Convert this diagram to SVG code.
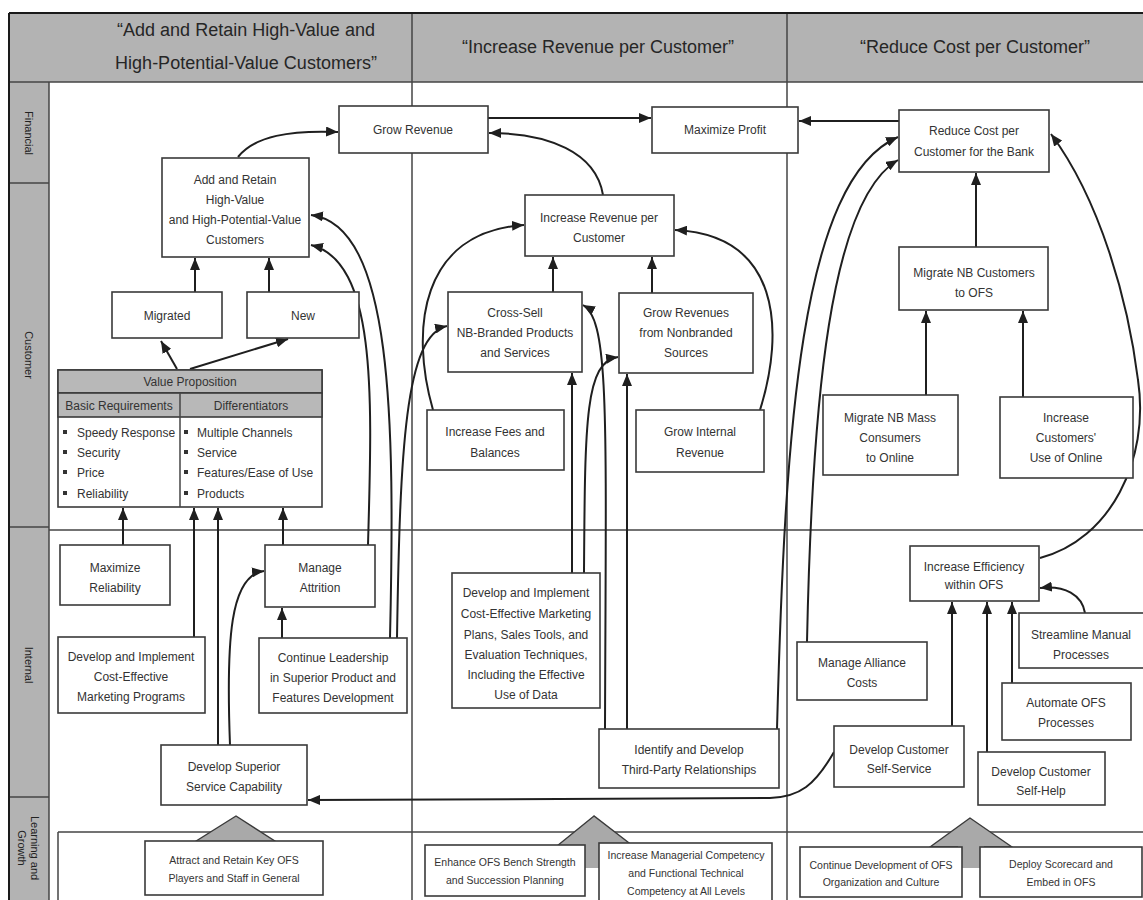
<svg xmlns="http://www.w3.org/2000/svg" width="1143" height="900" viewBox="0 0 1143 900">
  <defs>
    <style>
      .band { fill: #b3b3b3; }
      .frame { fill: none; stroke: #1a1a1a; stroke-width: 2; }
      .grid { fill: none; stroke: #444; stroke-width: 1.5; }
      .box { fill: #fff; stroke: #3a3a3a; stroke-width: 1.6; }
      .vphead { fill: #b8b8b8; stroke: #3a3a3a; stroke-width: 1.6; }
      .conn { fill: none; stroke: #1f1f1f; stroke-width: 2; marker-end: url(#ah); }
      .plain { fill: none; stroke: #1f1f1f; stroke-width: 2; }
      .pyr { fill: #a9a9a9; stroke: #3a3a3a; stroke-width: 1.4; }
      .title { font-family: "Liberation Sans", Arial, sans-serif; font-size: 18px; fill: #262626; text-anchor: middle; }
      .row { font-family: "Liberation Sans", Arial, sans-serif; font-size: 11px; fill: #222; text-anchor: middle; }
      .t { font-family: "Liberation Sans", Arial, sans-serif; font-size: 12px; fill: #333; text-anchor: middle; }
      .s { font-family: "Liberation Sans", Arial, sans-serif; font-size: 10.5px; fill: #333; text-anchor: middle; }
      .b { font-family: "Liberation Sans", Arial, sans-serif; font-size: 12px; fill: #333; }
    </style>
    <marker id="ah" viewBox="0 0 12 10" refX="12" refY="5" markerWidth="12" markerHeight="10" markerUnits="userSpaceOnUse" orient="auto">
      <path d="M0,0 L12,5 L0,10 z" fill="#1f1f1f"/>
    </marker>
  </defs>

  <!-- page background -->
  <rect x="0" y="0" width="1143" height="900" fill="#fff"/>

  <!-- header band and perspective column -->
  <g id="layout">
    <rect class="band" x="9" y="13" width="1134" height="69"/>
    <rect class="band" x="9" y="82" width="40" height="818"/>
    <line class="grid" x1="9" y1="82" x2="1143" y2="82"/>
    <line class="grid" x1="49" y1="82" x2="49" y2="900"/>
    <line class="grid" x1="9" y1="183" x2="49" y2="183"/>
    <line class="grid" x1="9" y1="527" x2="49" y2="527"/>
    <line class="grid" x1="9" y1="797" x2="49" y2="797"/>
    <line class="grid" x1="49" y1="530" x2="1143" y2="530"/>
    <line class="grid" x1="412" y1="13" x2="412" y2="900"/>
    <line class="grid" x1="787" y1="13" x2="787" y2="900"/>
    <line class="grid" x1="58" y1="832" x2="1143" y2="832"/>
    <line class="grid" x1="58" y1="832" x2="58" y2="900"/>
    <line class="frame" x1="9" y1="13" x2="1143" y2="13"/>
    <line class="frame" x1="9" y1="13" x2="9" y2="900"/>

    <text class="title" x="246" y="36">“Add and Retain High-Value and</text>
    <text class="title" x="246" y="69">High-Potential-Value Customers”</text>
    <text class="title" x="598" y="53">“Increase Revenue per Customer”</text>
    <text class="title" x="975" y="53">“Reduce Cost per Customer”</text>

    <text class="row" transform="translate(29,133) rotate(90)" y="4">Financial</text>
    <text class="row" transform="translate(29,355) rotate(90)" y="4">Customer</text>
    <text class="row" transform="translate(29,665) rotate(90)" y="4">Internal</text>
    <text class="row" transform="translate(29,848) rotate(90)" y="-2">Learning and</text>
    <text class="row" transform="translate(29,848) rotate(90)" y="11">Growth</text>
  </g>

  <!-- connectors -->
  <g id="connectors">
    <path class="conn" d="M238,157 C255,136 290,130 338,132"/>
    <path class="conn" d="M488,118 L651,118"/>
    <path class="conn" d="M603,195 C596,152 548,133 489,133"/>
    <path class="conn" d="M899,121 L799,121"/>
    <path class="conn" d="M195,292 L195,258"/>
    <path class="conn" d="M269,292 L269,258"/>
    <path class="conn" d="M177,369 L161,341"/>
    <path class="conn" d="M190,369 L288,339"/>
    <path class="conn" d="M368,545 C372,400 378,262 311,245"/>
    <path class="conn" d="M390,638 C395,420 393,225 311,215"/>
    <path class="conn" d="M397,638 C400,450 405,335 447,326"/>
    <path class="conn" d="M123,545 L123,508"/>
    <path class="conn" d="M194,637 L194,508"/>
    <path class="conn" d="M218,745 L218,508"/>
    <path class="conn" d="M283,545 L283,508"/>
    <path class="conn" d="M282,638 L282,608"/>
    <path class="conn" d="M230,745 C226,640 230,575 264,571"/>
    <path class="conn" d="M834,752 C815,785 800,797 770,798 L308,800"/>
    <path class="conn" d="M433,410 C410,330 420,232 524,225"/>
    <path class="conn" d="M760,410 C785,330 780,235 675,230"/>
    <path class="conn" d="M553,292 L553,257"/>
    <path class="conn" d="M652,293 L652,257"/>
    <path class="conn" d="M572,573 L572,373"/>
    <path class="conn" d="M584,573 C585,420 585,362 618,357"/>
    <path class="conn" d="M605,729 C606,420 610,320 583,305"/>
    <path class="conn" d="M627,729 L627,374"/>
    <path class="conn" d="M777,729 C785,430 800,180 898,137"/>
    <path class="conn" d="M807,642 C812,400 830,200 898,160"/>
    <path class="conn" d="M976,247 L976,173"/>
    <path class="conn" d="M926,395 L926,311"/>
    <path class="conn" d="M1023,397 L1023,311"/>
    <path class="conn" d="M1040,558 C1110,540 1150,460 1138,380 C1128,300 1100,200 1051,134"/>
    <path class="conn" d="M1085,613 C1082,595 1065,585 1040,588"/>
    <path class="conn" d="M1012,683 L1012,602"/>
    <path class="conn" d="M987,752 L987,602"/>
    <path class="conn" d="M952,726 L952,602"/>
  </g>

  <!-- financial perspective -->
  <g id="grow-revenue"><rect class="box" x="339" y="106" width="149" height="47"/><text class="t" x="413" y="134">Grow Revenue</text></g>
  <g id="maximize-profit"><rect class="box" x="652" y="107" width="146" height="46"/><text class="t" x="725" y="134">Maximize Profit</text></g>
  <g id="reduce-cost"><rect class="box" x="899" y="110" width="150" height="62"/><text class="t" x="974" y="135">Reduce Cost per</text><text class="t" x="974" y="156">Customer for the Bank</text></g>

  <!-- customer perspective -->
  <g id="add-retain"><rect class="box" x="162" y="158" width="147" height="99"/>
    <text class="t" x="235" y="184">Add and Retain</text><text class="t" x="235" y="204">High-Value</text>
    <text class="t" x="235" y="224">and High-Potential-Value</text><text class="t" x="235" y="244">Customers</text></g>
  <g id="increase-revenue"><rect class="box" x="525" y="195" width="149" height="61"/><text class="t" x="599" y="222">Increase Revenue per</text><text class="t" x="599" y="242">Customer</text></g>
  <g id="migrated"><rect class="box" x="112" y="292" width="110" height="46"/><text class="t" x="167" y="320">Migrated</text></g>
  <g id="new"><rect class="box" x="247" y="292" width="112" height="46"/><text class="t" x="303" y="320">New</text></g>
  <g id="cross-sell"><rect class="box" x="448" y="292" width="134" height="80"/>
    <text class="t" x="515" y="317">Cross-Sell</text><text class="t" x="515" y="337">NB-Branded Products</text><text class="t" x="515" y="357">and Services</text></g>
  <g id="grow-nonbranded"><rect class="box" x="619" y="293" width="134" height="80"/>
    <text class="t" x="686" y="317">Grow Revenues</text><text class="t" x="686" y="337">from Nonbranded</text><text class="t" x="686" y="357">Sources</text></g>
  <g id="migrate-nb"><rect class="box" x="899" y="247" width="149" height="63"/><text class="t" x="974" y="277">Migrate NB Customers</text><text class="t" x="974" y="297">to OFS</text></g>
  <g id="increase-fees"><rect class="box" x="427" y="410" width="137" height="60"/><text class="t" x="495" y="436">Increase Fees and</text><text class="t" x="495" y="457">Balances</text></g>
  <g id="grow-internal"><rect class="box" x="636" y="410" width="128" height="62"/><text class="t" x="700" y="436">Grow Internal</text><text class="t" x="700" y="457">Revenue</text></g>
  <g id="migrate-mass"><rect class="box" x="823" y="395" width="135" height="80"/>
    <text class="t" x="890" y="422">Migrate NB Mass</text><text class="t" x="890" y="442">Consumers</text><text class="t" x="890" y="462">to Online</text></g>
  <g id="online-use"><rect class="box" x="1000" y="397" width="133" height="81"/>
    <text class="t" x="1066" y="422">Increase</text><text class="t" x="1066" y="442">Customers'</text><text class="t" x="1066" y="462">Use of Online</text></g>
  <g id="value-proposition">
    <rect class="box" x="58" y="370" width="264" height="137"/>
    <rect class="vphead" x="58" y="370" width="264" height="23"/>
    <rect class="vphead" x="58" y="393" width="264" height="24"/>
    <line class="grid" x1="180" y1="393" x2="180" y2="507"/>
    <text class="t" x="190" y="386">Value Proposition</text>
    <text class="t" x="119" y="410">Basic Requirements</text>
    <text class="t" x="251" y="410">Differentiators</text>
    <g fill="#333">
      <rect x="63" y="430" width="4" height="4"/><rect x="63" y="450" width="4" height="4"/><rect x="63" y="470" width="4" height="4"/><rect x="63" y="491" width="4" height="4"/>
      <rect x="184" y="430" width="4" height="4"/><rect x="184" y="450" width="4" height="4"/><rect x="184" y="470" width="4" height="4"/><rect x="184" y="491" width="4" height="4"/>
    </g>
    <text class="b" x="77" y="437">Speedy Response</text><text class="b" x="77" y="457">Security</text>
    <text class="b" x="77" y="477">Price</text><text class="b" x="77" y="498">Reliability</text>
    <text class="b" x="197" y="437">Multiple Channels</text><text class="b" x="197" y="457">Service</text>
    <text class="b" x="197" y="477">Features/Ease of Use</text><text class="b" x="197" y="498">Products</text>
  </g>

  <!-- internal perspective -->
  <g id="max-reliability"><rect class="box" x="60" y="545" width="110" height="60"/><text class="t" x="115" y="572">Maximize</text><text class="t" x="115" y="592">Reliability</text></g>
  <g id="manage-attrition"><rect class="box" x="265" y="545" width="110" height="62"/><text class="t" x="320" y="572">Manage</text><text class="t" x="320" y="592">Attrition</text></g>
  <g id="increase-efficiency"><rect class="box" x="910" y="546" width="129" height="55"/><text class="t" x="974" y="571">Increase Efficiency</text><text class="t" x="974" y="589">within OFS</text></g>
  <g id="marketing-programs"><rect class="box" x="58" y="637" width="147" height="76"/>
    <text class="t" x="131" y="661">Develop and Implement</text><text class="t" x="131" y="681">Cost-Effective</text><text class="t" x="131" y="701">Marketing Programs</text></g>
  <g id="continue-leadership"><rect class="box" x="259" y="638" width="148" height="75"/>
    <text class="t" x="333" y="662">Continue Leadership</text><text class="t" x="333" y="682">in Superior Product and</text><text class="t" x="333" y="702">Features Development</text></g>
  <g id="marketing-plans"><rect class="box" x="452" y="573" width="148" height="135"/>
    <text class="t" x="526" y="597">Develop and Implement</text><text class="t" x="526" y="618">Cost-Effective Marketing</text>
    <text class="t" x="526" y="639">Plans, Sales Tools, and</text><text class="t" x="526" y="659">Evaluation Techniques,</text>
    <text class="t" x="526" y="679">Including the Effective</text><text class="t" x="526" y="699">Use of Data</text></g>
  <g id="streamline"><rect class="box" x="1019" y="613" width="126" height="55"/><text class="t" x="1081" y="639">Streamline Manual</text><text class="t" x="1081" y="659">Processes</text></g>
  <g id="alliance-costs"><rect class="box" x="797" y="642" width="130" height="58"/><text class="t" x="862" y="667">Manage Alliance</text><text class="t" x="862" y="687">Costs</text></g>
  <g id="automate"><rect class="box" x="1002" y="683" width="129" height="57"/><text class="t" x="1066" y="707">Automate OFS</text><text class="t" x="1066" y="727">Processes</text></g>
  <g id="third-party"><rect class="box" x="599" y="729" width="180" height="59"/><text class="t" x="689" y="754">Identify and Develop</text><text class="t" x="689" y="774">Third-Party Relationships</text></g>
  <g id="self-service"><rect class="box" x="834" y="726" width="130" height="61"/><text class="t" x="899" y="754">Develop Customer</text><text class="t" x="899" y="773">Self-Service</text></g>
  <g id="superior-service"><rect class="box" x="161" y="745" width="146" height="60"/><text class="t" x="234" y="771">Develop Superior</text><text class="t" x="234" y="791">Service Capability</text></g>
  <g id="self-help"><rect class="box" x="978" y="752" width="127" height="53"/><text class="t" x="1041" y="776">Develop Customer</text><text class="t" x="1041" y="795">Self-Help</text></g>

  <!-- learning and growth -->
  <g id="pyramids">
    <polygon class="pyr" points="236,816 193,843 278,843"/>
    <polygon class="pyr" points="594,816 557,846 633,846"/>
    <rect x="580" y="845" width="24" height="23" fill="#a9a9a9"/>
    <polygon class="pyr" points="970,818 930,847 1012,847"/>
    <rect x="958" y="846" width="26" height="22" fill="#a9a9a9"/>
  </g>
  <g id="attract-retain"><rect class="box" x="145" y="841" width="178" height="54"/><text class="s" x="234" y="864">Attract and Retain Key OFS</text><text class="s" x="234" y="882">Players and Staff in General</text></g>
  <g id="bench-strength"><rect class="box" x="425" y="845" width="160" height="51"/><text class="s" x="505" y="866">Enhance OFS Bench Strength</text><text class="s" x="505" y="884">and Succession Planning</text></g>
  <g id="competency"><rect class="box" x="599" y="843" width="173" height="62"/><text class="s" x="686" y="859">Increase Managerial Competency</text><text class="s" x="686" y="877">and Functional Technical</text><text class="s" x="686" y="895">Competency at All Levels</text></g>
  <g id="organization-culture"><rect class="box" x="800" y="847" width="162" height="50"/><text class="s" x="881" y="869">Continue Development of OFS</text><text class="s" x="881" y="886">Organization and Culture</text></g>
  <g id="scorecard"><rect class="box" x="980" y="847" width="162" height="50"/><text class="s" x="1061" y="868">Deploy Scorecard and</text><text class="s" x="1061" y="886">Embed in OFS</text></g>
</svg>
